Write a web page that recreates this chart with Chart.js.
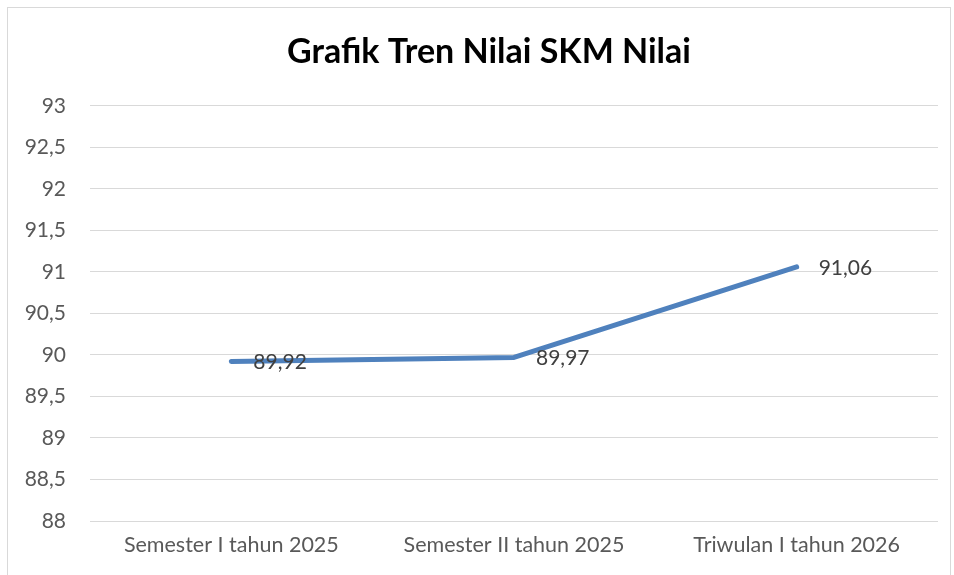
<!DOCTYPE html>
<html>
<head>
<meta charset="utf-8">
<script src="https://cdn.jsdelivr.net/npm/chart.js@4/dist/chart.umd.min.js"></script>
<style>
  body { margin: 0; background: #fff; }
  #frame { position: absolute; left: 7px; top: 7px; width: 942px; height: 590px; border: 1px solid #d9d9d9; }
  #wrap { position: absolute; left: 0; top: 0; width: 954px; height: 575px; }
</style>
</head>
<body>
<div id="frame"></div>
<div id="wrap"><canvas id="trendChart" width="954" height="575"></canvas></div>
<script>
const periods = ["Semester I tahun 2025", "Semester II tahun 2025", "Triwulan I tahun 2026"];
const skmValues = [89.92, 89.97, 91.06];
const yMin = 88;
const yMax = 93;
const yStep = 0.5;

const fmt = v => String(v).replace(".", ",");
const fontFamily = "Lato, 'Noto Sans', sans-serif";

// draws the value next to each point, like the office chart does
const valueLabels = {
    id: "valueLabels",
    afterDatasetsDraw(chart) {
        const ctx = chart.ctx;
        const meta = chart.getDatasetMeta(0);
        ctx.save();
        ctx.font = "21px " + fontFamily;
        ctx.fillStyle = "#404040";
        ctx.textAlign = "left";
        ctx.textBaseline = "middle";
        meta.data.forEach((pt, i) => {
            ctx.fillText(fmt(skmValues[i]), pt.x + 22, pt.y + 1);
        });
        ctx.restore();
    }
};

// title sits a bit right of the canvas centre in the original
const titleShift = {
    id: "titleShift",
    afterLayout(chart) {
        if (chart.titleBlock) {
            chart.titleBlock.left += 40;
        }
    }
};

new Chart(document.getElementById("trendChart").getContext("2d"), {
    type: "line",
    data: {
        labels: periods,
        datasets: [{
            label: "Nilai SKM",
            data: skmValues,
            borderColor: "#4F81BD",
            borderWidth: 5,
            borderCapStyle: "round",
            borderJoinStyle: "round",
            pointRadius: 0,
            tension: 0,
            fill: false
        }]
    },
    options: {
        responsive: false,
        animation: false,
        layout: { padding: { left: 0, right: 16, top: 0, bottom: 0 } },
        plugins: {
            legend: { display: false },
            tooltip: { enabled: false },
            title: {
                display: true,
                text: "Grafik Tren Nilai SKM Nilai",
                color: "#000",
                font: { family: fontFamily, size: 34, weight: "bold", lineHeight: 1.2 },
                padding: { top: 32, bottom: 33 }
            }
        },
        scales: {
            x: {
                offset: true,
                grid: { display: false, drawTicks: false },
                border: { display: false },
                ticks: { color: "#595959", padding: 11, maxRotation: 0, font: { family: fontFamily, size: 21.5 } },
                afterFit(scale) { scale.height = 54; }
            },
            y: {
                min: yMin,
                max: yMax,
                grid: { color: "#d9d9d9", lineWidth: 1, drawTicks: false },
                border: { display: false },
                ticks: {
                    stepSize: yStep,
                    color: "#595959",
                    padding: 24,
                    font: { family: fontFamily, size: 21 },
                    callback: v => fmt(v)
                },
                afterFit(scale) { scale.width = 90; }
            }
        }
    },
    plugins: [valueLabels, titleShift]
});
</script>
</body>
</html>
